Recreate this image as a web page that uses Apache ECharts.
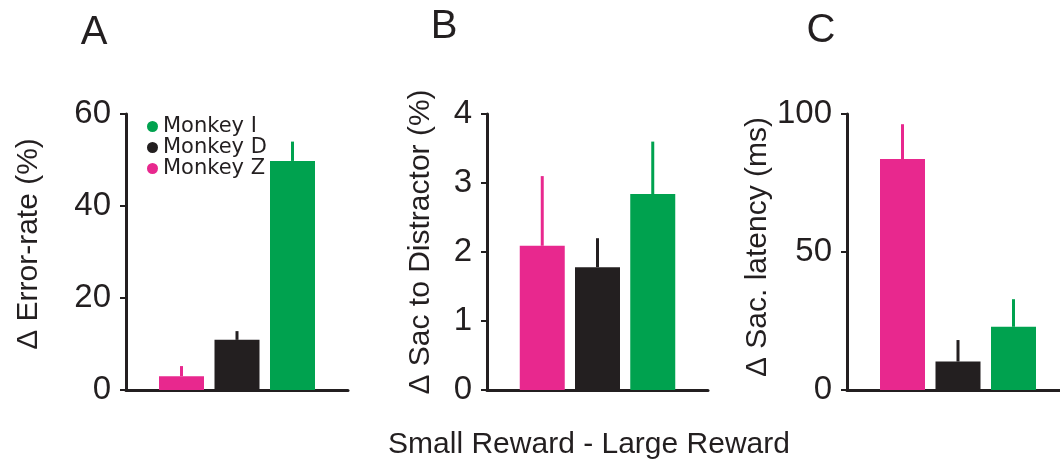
<!DOCTYPE html>
<html>
<head>
<meta charset="utf-8">
<script src="https://cdn.jsdelivr.net/npm/echarts@6/dist/echarts.min.js"></script>
<style>
html,body{margin:0;padding:0;background:#fff;}
#chart{width:1060px;height:462px;}
</style>
</head>
<body>
<div id="chart"></div>
<script>
// ---- data ----
const categories = ['', 'Monkey Z', 'Monkey D', 'Monkey I', ''];
const monkeys = ['Monkey Z', 'Monkey D', 'Monkey I'];
const legendOrder = ['Monkey I', 'Monkey D', 'Monkey Z'];
const panelLetters = ['A', 'B', 'C'];
const yTitles = ['\u0394 Error-rate (%)', '\u0394 Sac to Distractor (%)', '\u0394 Sac. latency (ms)'];
const xTitle = 'Small Reward - Large Reward';
const errorRate = [3.0, 10.9, 49.8];
const errorRateErr = [2.2, 1.9, 4.2];
const sacDistractor = [2.09, 1.78, 2.84];
const sacDistractorErr = [1.01, 0.42, 0.76];
const sacLatency = [83.7, 10.3, 22.9];
const sacLatencyErr = [12.6, 7.8, 10.0];
const yTicksA = [0, 20, 40, 60];
const yTicksB = [0, 1, 2, 3, 4];
const yTicksC = [0, 50, 100];

// ---- styles / layout ----
const colorMap = {'Monkey Z': '#e8288e', 'Monkey D': '#231f20', 'Monkey I': '#00a24f'};
const ink = '#231f20';
const FONT = '"Liberation Sans", Arial, Helvetica, sans-serif';
const grids = [
  {left: 126, top: 114, width: 222, height: 276, outerBoundsMode: 'none', containLabel: false},
  {left: 487, top: 114, width: 221, height: 276, outerBoundsMode: 'none', containLabel: false},
  {left: 847, top: 114, width: 222, height: 276, outerBoundsMode: 'none', containLabel: false}
];
const panels = [
  {vals: errorRate, errs: errorRateErr, ticks: yTicksA},
  {vals: sacDistractor, errs: sacDistractorErr, ticks: yTicksB},
  {vals: sacLatency, errs: sacLatencyErr, ticks: yTicksC}
];

const xAxes = [], yAxes = [], series = [];
panels.forEach((p, gi) => {
  xAxes.push({
    type: 'category', gridIndex: gi, data: categories, boundaryGap: false,
    axisLine: {show: true, lineStyle: {color: ink, width: 3}},
    axisTick: {show: false}, axisLabel: {show: false}, splitLine: {show: false}
  });
  const t = p.ticks;
  yAxes.push({
    type: 'value', gridIndex: gi, min: t[0], max: t[t.length - 1], interval: t[1] - t[0],
    axisLine: {show: true, lineStyle: {color: ink, width: 3}},
    axisTick: {show: true, inside: false, length: 6, lineStyle: {color: ink, width: 2}},
    axisLabel: {fontSize: 33, fontFamily: FONT, color: ink, margin: 15},
    splitLine: {show: false}
  });
  monkeys.forEach((m, mi) => {
    const d = categories.map(c => (c === m ? p.vals[mi] : null));
    series.push({
      type: 'bar', name: m, xAxisIndex: gi, yAxisIndex: gi, data: d,
      barWidth: 45, barGap: '-100%', itemStyle: {color: colorMap[m]},
      animation: false, z: 2
    });
  });
  const errData = monkeys.map((m, mi) => [categories.indexOf(m), p.vals[mi], p.vals[mi] + p.errs[mi]]);
  series.push({
    type: 'custom', xAxisIndex: gi, yAxisIndex: gi, data: errData, z: 3,
    animation: false, silent: true,
    renderItem: function (params, api) {
      const a = api.coord([api.value(0), api.value(1)]);
      const b = api.coord([api.value(0), api.value(2)]);
      const col = colorMap[categories[api.value(0)]];
      return {type: 'line', shape: {x1: a[0], y1: a[1], x2: b[0], y2: b[1]},
        style: {stroke: col, lineWidth: 3}};
    }
  });
});

const letterPos = [[94, 33], [444, 27], [821, 31]];
const titlePos = [[29, 244], [421, 242], [758, 247]];
const graphics = [];
panelLetters.forEach((L, i) => {
  graphics.push({type: 'text', x: letterPos[i][0], y: letterPos[i][1],
    style: {text: L, font: '40px ' + FONT, fill: ink, textAlign: 'center', textVerticalAlign: 'middle'}});
});
yTitles.forEach((T, i) => {
  graphics.push({type: 'text', x: titlePos[i][0], y: titlePos[i][1], rotation: Math.PI / 2,
    style: {text: T, font: '30px ' + FONT, fill: ink, textAlign: 'center', textVerticalAlign: 'middle'}});
});
graphics.push({type: 'text', x: 589, y: 445,
  style: {text: xTitle, font: '30px ' + FONT, fill: ink, textAlign: 'center', textVerticalAlign: 'middle'}});

const chart = echarts.init(document.getElementById('chart'), null, {renderer: 'canvas'});
chart.setOption({
  animation: false,
  backgroundColor: '#fff',
  grid: grids,
  xAxis: xAxes,
  yAxis: yAxes,
  legend: {
    data: legendOrder, orient: 'vertical', left: 142, top: 111,
    icon: 'circle', itemWidth: 11, itemHeight: 11, itemGap: 0,
    textStyle: {fontSize: 21, lineHeight: 19, fontFamily: '"DejaVu Sans", sans-serif', color: ink},
    selectedMode: false
  },
  series: series,
  graphic: graphics
});
</script>
</body>
</html>
